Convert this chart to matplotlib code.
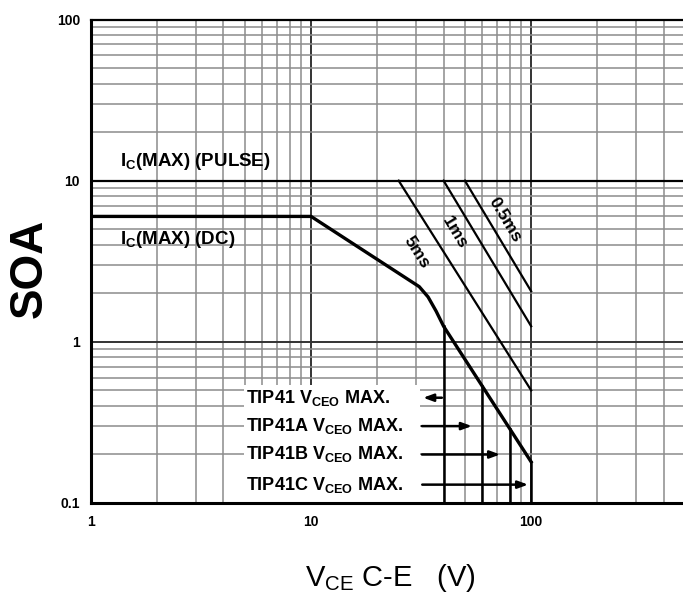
import numpy as np
import matplotlib.pyplot as plt
from matplotlib.ticker import LogLocator, NullFormatter
from matplotlib.patches import Rectangle

plt.rcParams['font.family'] = ['Liberation Sans', 'DejaVu Sans']
plt.rcParams['mathtext.default'] = 'regular'

# safe operating area data
dc_v = [1, 10, 31, 34, 37, 40, 100]
dc_i = [6, 6, 2.2, 1.9, 1.55, 1.25, 0.18]
pulse_max = 10
pulse_lines = {
    '5ms': ([25, 100], [10, 0.5]),
    '1ms': ([40, 100], [10, 1.25]),
    '0.5ms': ([50, 100], [10, 2.06]),
}
pulse_label_pos = {'5ms': (30.2, 3.57), '1ms': (45.1, 4.75), '0.5ms': (76.2, 5.75)}
pulse_label_rot = {'5ms': -57.5, '1ms': -59, '0.5ms': -59}

models = ['TIP41', 'TIP41A', 'TIP41B', 'TIP41C']
vceo = [40, 60, 80, 100]
arrow_y = [0.45, 0.30, 0.20, 0.13]
arrow_from = [39.3, 31.9, 31.9, 32.0]
arrow_to = [32.3, 53.8, 72.3, 96.9]

xmin, xmax = 1, 10 ** 2.69
ymin, ymax = 0.1, 100

fig = plt.figure(figsize=(6.83, 6.03), dpi=100)
ax = fig.add_axes([91 / 683, 1 - 503 / 603, 1 - 91 / 683, (503 - 19.5) / 603])
ax.set_xscale('log')
ax.set_yscale('log')
ax.set_xlim(xmin, xmax)
ax.set_ylim(ymin, ymax)

# grid
ax.xaxis.set_minor_locator(LogLocator(base=10, subs=np.arange(2, 10)))
ax.yaxis.set_minor_locator(LogLocator(base=10, subs=np.arange(2, 10)))
ax.xaxis.set_minor_formatter(NullFormatter())
ax.yaxis.set_minor_formatter(NullFormatter())
ax.grid(True, which='minor', color='#8c8c8c', lw=1.1)
ax.grid(True, which='major', color='#333333', lw=1.4)
ax.set_axisbelow(True)

ax.set_xticks([1, 10, 100])
ax.set_xticklabels(['1', '10', '100'], fontsize=10, fontweight='bold')
ax.set_yticks([0.1, 1, 10, 100])
ax.set_yticklabels(['0.1', '1', '10', '100'], fontsize=10, fontweight='bold')
ax.tick_params(which='both', length=0)
ax.tick_params(axis='x', pad=9)
ax.tick_params(axis='y', pad=8)

for s in ['left', 'bottom']:
    ax.spines[s].set_linewidth(2.2)
ax.spines['top'].set_linewidth(1.6)
ax.spines['right'].set_visible(False)

# pulse limit and DC curve
ax.axhline(pulse_max, color='black', lw=1.6, zorder=3)
ax.plot(dc_v, dc_i, color='black', lw=2.4, solid_joinstyle='round', zorder=4)

for name, (xs, ys) in pulse_lines.items():
    ax.plot(xs, ys, color='black', lw=1.6, zorder=4)
    lx, ly = pulse_label_pos[name]
    ax.text(lx, ly, name, rotation=pulse_label_rot[name], ha='center', va='center',
            fontsize=12.5, fontweight='bold', zorder=5)

ax.text(1.355, 13.2, 'I$_C$(MAX) (PULSE)', fontsize=13.5, fontweight='bold',
        va='center', ha='left', zorder=5)
ax.text(1.355, 4.32, 'I$_C$(MAX) (DC)', fontsize=13.5, fontweight='bold',
        va='center', ha='left', zorder=5)

# VCEO limits
log_dc_v = np.log10(dc_v)
log_dc_i = np.log10(dc_i)
for v in vceo:
    top = 10 ** np.interp(np.log10(v), log_dc_v, log_dc_i)
    ax.plot([v, v], [ymin, top], color='black', lw=1.8, zorder=4, clip_on=False)

# white panel behind the model labels
label_x = 5.05
ax.add_patch(Rectangle((label_x * 0.98, ymin), 31.2 - label_x * 0.98, 0.54 - ymin,
                       facecolor='white', edgecolor='none', zorder=2))
for m, y, x0, x1 in zip(models, arrow_y, arrow_from, arrow_to):
    ax.text(label_x, y, m + ' V$_{CEO}$ MAX.', fontsize=13, fontweight='bold',
            va='center', ha='left', zorder=5)
    ax.annotate('', xy=(x1, y), xytext=(x0, y),
                arrowprops=dict(arrowstyle='-|>,head_length=0.6,head_width=0.22',
                                color='black', lw=1.8, shrinkA=0, shrinkB=0),
                zorder=5)

fig.text(30 / 683, 1 - 268 / 603, 'SOA', rotation=90, fontsize=33, fontweight='bold',
         ha='center', va='center')
fig.text(390 / 683, 1 - 578 / 603, 'V$_{CE}$ C-E   (V)', fontsize=21,
         ha='center', va='center')

fig.savefig('out.png', dpi=100)
